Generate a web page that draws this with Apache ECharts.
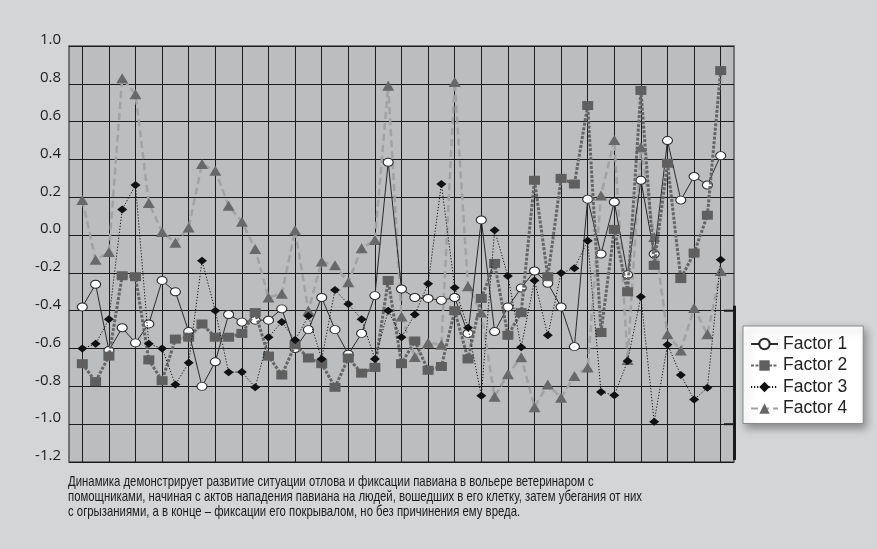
<!DOCTYPE html>
<html><head><meta charset="utf-8">
<script src="https://cdn.jsdelivr.net/npm/echarts@6/dist/echarts.min.js"></script>
<style>html,body{margin:0;padding:0;background:#d4d5d7}#c{width:877px;height:549px}</style>
</head><body><div id="c"></div><script>
// ---- data ----
const seriesNames = ['Factor 1', 'Factor 2', 'Factor 3', 'Factor 4'];
const factor1 = [-0.38, -0.26, -0.61, -0.49, -0.57, -0.47, -0.24, -0.30, -0.51, -0.80, -0.67, -0.42, -0.46, -0.45, -0.45, -0.39, -0.60, -0.50, -0.33, -0.50, -0.63, -0.52, -0.32, 0.385, -0.285, -0.33, -0.335, -0.345, -0.33, -0.52, 0.08, -0.51, -0.38, -0.28, -0.19, -0.255, -0.38, -0.59, 0.19, -0.10, 0.175, -0.21, 0.29, -0.10, 0.50, 0.185, 0.31, 0.265, 0.42];
const factor2 = [-0.68, -0.775, -0.64, -0.215, -0.22, -0.66, -0.77, -0.55, -0.54, -0.47, -0.54, -0.54, -0.52, -0.41, -0.64, -0.74, -0.58, -0.65, -0.68, -0.805, -0.65, -0.73, -0.70, -0.24, -0.68, -0.56, -0.715, -0.695, -0.40, -0.655, -0.335, -0.15, -0.53, -0.41, 0.29, -0.22, 0.30, 0.27, 0.685, -0.515, 0.03, -0.30, 0.765, -0.16, 0.38, -0.23, -0.095, 0.105, 0.87];
const factor3 = [-0.60, -0.575, -0.445, 0.135, 0.265, -0.575, -0.60, -0.79, -0.675, -0.136, -0.40, -0.725, -0.724, -0.805, -0.54, -0.46, -0.555, -0.428, -0.655, -0.29, -0.365, -0.445, -0.655, -0.40, -0.54, -0.42, -0.257, 0.27, -0.278, -0.49, -0.85, 0.025, -0.217, -0.593, -0.24, -0.53, -0.20, -0.176, -0.03, -0.83, -0.847, -0.666, -0.326, -0.987, -0.58, -0.74, -0.87, -0.807, -0.13];
const factor4 = [0.185, -0.13, -0.09, 0.83, 0.745, 0.17, 0.017, -0.04, 0.04, 0.376, 0.34, 0.155, 0.07, -0.074, -0.33, -0.31, 0.025, -0.40, -0.14, -0.16, -0.25, -0.07, -0.026, 0.79, -0.43, -0.645, -0.57, -0.58, 0.81, -0.27, -0.41, -0.855, -0.736, -0.646, -0.91, -0.79, -0.86, -0.745, -0.70, 0.21, 0.503, -0.66, 0.464, -0.01, -0.525, -0.61, -0.385, -0.525, -0.19];
const yMin = -1.2, yMax = 1.0, yStep = 0.2;
const caption = [
  'Динамика демонстрирует развитие ситуации отлова и фиксации павиана в вольере ветеринаром с',
  'помощниками, начиная с актов нападения павиана на людей, вошедших в его клетку, затем убегания от них',
  'с огрызаниями, а в конце – фиксации его покрывалом, но без причинения ему вреда.'
];

// ---- build ----
const n = factor1.length;
const xCats = [''];
for (let i = 1; i <= n; i++) xCats.push(String(i));
xCats.push('');
const toPairs = arr => arr.map((v, i) => [i + 1, v]);

const styles = [
  {symbol: 'circle', symbolSize: [10, 8], item: {color: '#ffffff', borderColor: '#2a2a2a', borderWidth: 1}, line: {color: '#2a2a2a', width: 1, type: 'solid'}, z: 3},
  {symbol: 'rect', symbolSize: [11, 9], item: {color: '#5f5f5f'}, line: {color: '#666666', width: 3, type: [3, 1.5]}, z: 4},
  {symbol: 'diamond', symbolSize: [10, 8], item: {color: '#111111'}, line: {color: '#111111', width: 1, type: [1.2, 1.8]}, z: 5},
  {symbol: 'triangle', symbolSize: [12, 10], item: {color: '#686868'}, line: {color: '#a2a2a2', width: 2.5, type: [7, 4]}, z: 2}
];
const datas = [factor1, factor2, factor3, factor4];

// caption font: condense horizontally to match the narrow original typeface
const capFont = '14.5px "Liberation Sans", Arial, sans-serif';
const cv = document.createElement('canvas').getContext('2d');
cv.font = capFont;
const capScale = 574 / cv.measureText(caption[1]).width;

const chart = echarts.init(document.getElementById('c'));
chart.setOption({
  backgroundColor: '#d4d5d7',
  animation: false,
  grid: {left: 69, top: 46, right: 143, bottom: 87, show: true, backgroundColor: '#bcbdbf', borderColor: '#555', borderWidth: 1.5},
  legend: {
    orient: 'vertical', left: 743, top: 326,
    data: seriesNames,
    backgroundColor: '#ffffff', borderColor: '#8a8a8a', borderWidth: 1,
    shadowBlur: 8, shadowColor: 'rgba(0,0,0,0.35)', shadowOffsetX: 3, shadowOffsetY: 4,
    padding: [9, 16, 6, 7],
    itemWidth: 27, itemHeight: 13, itemGap: 3.5,
    textStyle: {fontFamily: '"Liberation Sans", Arial, sans-serif', fontSize: 17.5, color: '#222'}
  },
  xAxis: {
    type: 'category', data: xCats, boundaryGap: false,
    axisLine: {show: false}, axisTick: {show: false}, axisLabel: {show: false},
    splitLine: {show: true, interval: (idx) => idx % 2 === 1, lineStyle: {color: '#1c1c1c', width: 1}}
  },
  yAxis: {
    type: 'value', min: yMin, max: yMax, interval: yStep,
    axisLine: {show: false}, axisTick: {show: false},
    axisLabel: {
      margin: 8, fontFamily: '"Open Sans", sans-serif', fontSize: 15, color: '#1e1e1e',
      verticalAlign: 'bottom', lineHeight: 12,
      formatter: v => (Math.abs(v) < 1e-9 ? 0 : v).toFixed(1)
    },
    splitLine: {show: true, lineStyle: {color: '#1c1c1c', width: 1}}
  },
  series: datas.map((d, k) => ({
    name: seriesNames[k], type: 'line', data: toPairs(d),
    showAllSymbol: true,
    symbol: styles[k].symbol, symbolSize: styles[k].symbolSize,
    itemStyle: styles[k].item, lineStyle: styles[k].line, z: styles[k].z
  }))
});

// decorative right-side bar fragment
const xr = chart.convertToPixel({xAxisIndex: 0}, xCats.length - 1);
const yA = chart.convertToPixel({yAxisIndex: 0}, -0.4);
const yB = chart.convertToPixel({yAxisIndex: 0}, -1.0);
const yBot = chart.convertToPixel({yAxisIndex: 0}, yMin);
chart.setOption({
  graphic: [
    {type: 'rect', shape: {x: xr - 1, y: yA - 5, width: 3, height: yBot - yA + 3}, style: {fill: '#1a1a1a'}, z: 10},
    {type: 'line', shape: {x1: xr - 10, y1: yA, x2: xr, y2: yA}, style: {stroke: '#1a1a1a', lineWidth: 2}, z: 10},
    {type: 'line', shape: {x1: xr - 10, y1: yB, x2: xr, y2: yB}, style: {stroke: '#1a1a1a', lineWidth: 2}, z: 10},
    {type: 'text', left: 68, top: 474, scaleX: capScale, originX: 0,
     style: {text: caption.join('\n'), font: capFont, fill: '#1a1a1a', lineHeight: 15}}
  ]
});
</script></body></html>
